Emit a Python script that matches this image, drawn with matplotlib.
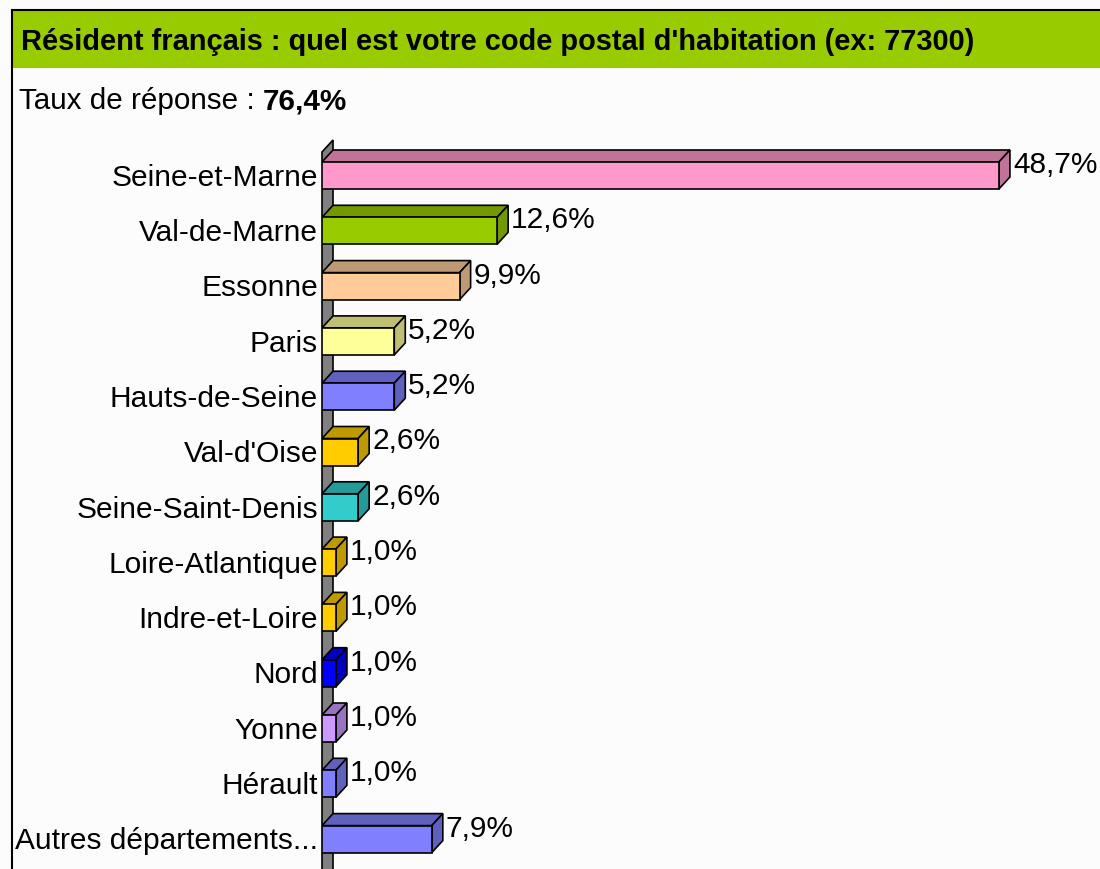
import matplotlib
matplotlib.use("Agg")
import matplotlib.pyplot as plt
from matplotlib.patches import Polygon, Rectangle

categories = [
    "Seine-et-Marne", "Val-de-Marne", "Essonne", "Paris", "Hauts-de-Seine",
    "Val-d'Oise", "Seine-Saint-Denis", "Loire-Atlantique", "Indre-et-Loire",
    "Nord", "Yonne", "Hérault", "Autres départements...",
]
values = [48.7, 12.6, 9.9, 5.2, 5.2, 2.6, 2.6, 1.0, 1.0, 1.0, 1.0, 1.0, 7.9]
value_labels = ["48,7%", "12,6%", "9,9%", "5,2%", "5,2%", "2,6%", "2,6%",
                "1,0%", "1,0%", "1,0%", "1,0%", "1,0%", "7,9%"]
front_colors = ["#FF99CC", "#99CC00", "#FFCC99", "#FFFF99", "#8080FF", "#FFCC00",
                "#33CCCC", "#FFCC00", "#FFCC00", "#0000FF", "#CC99FF", "#8080FF",
                "#8080FF"]
shade_colors = ["#BF7399", "#739900", "#BF9973", "#BFBF73", "#6060BF", "#BF9900",
                "#269999", "#BF9900", "#BF9900", "#0000BF", "#9973BF", "#6060BF",
                "#6060BF"]

title = "Résident français : quel est votre code postal d'habitation (ex: 77300)"
rate_label = "Taux de réponse : "
rate_value = "76,4%"

FAM = "Liberation Sans"

W, H = 1100, 869
fig = plt.figure(figsize=(W / 100, H / 100), dpi=100)
fig.patch.set_facecolor("#FCFCFC")

# page decoration in pixel coordinates
deco = fig.add_axes([0, 0, 1, 1])
deco.set_xlim(0, W)
deco.set_ylim(H, 0)
deco.axis("off")
deco.add_patch(Rectangle((12, 10), W, 58, facecolor="#99CC00", edgecolor="none"))
deco.plot([12, W], [10, 10], color="black", lw=1.5)
deco.plot([12, 12], [10, H], color="black", lw=1.5)
deco.text(21, 42, title, family=FAM, weight="bold", fontsize=20.9, va="center", ha="left")
t1 = deco.text(19, 101, rate_label, family=FAM, fontsize=21.3, va="center", ha="left")
fig.canvas.draw()
bb = t1.get_window_extent()
deco.text(bb.x1, H - 101, rate_value, family=FAM, weight="bold", fontsize=21.3,
          va="center", ha="left", transform=None)

# chart area
px_per_pct = 13.9
row = 55.3
left_px, top_px = 322, 140
ax = fig.add_axes([left_px / W, 0, 1 - left_px / W, (H - top_px) / H])
xmax = (W - left_px) / px_per_pct
y_top = (top_px - 175.5) / row
y_bot = (H - 175.5) / row
ax.set_xlim(0, xmax)
ax.set_ylim(y_bot, y_top)
ax.axis("off")

dx = 11 / px_per_pct
dy = 12 / row
h = 27 / row

# back wall
ax.add_patch(Polygon([(0, y_bot + 1), (0, y_top + dy), (dx, y_top), (dx, y_bot + 1 - dy)],
                     closed=True, facecolor="#808080", edgecolor="black", lw=1.2,
                     clip_on=False))

for i, (cat, v, lab, fc, sc) in enumerate(zip(categories, values, value_labels,
                                               front_colors, shade_colors)):
    y0 = i - h / 2
    y1 = i + h / 2
    top = Polygon([(0, y0), (v, y0), (v + dx, y0 - dy), (dx, y0 - dy)], closed=True,
                  facecolor=sc, edgecolor="black", lw=1.2)
    side = Polygon([(v, y0), (v, y1), (v + dx, y1 - dy), (v + dx, y0 - dy)], closed=True,
                   facecolor=sc, edgecolor="black", lw=1.2)
    front = Rectangle((0, y0), v, h, facecolor=fc, edgecolor="black", lw=1.2)
    ax.add_patch(top)
    ax.add_patch(side)
    ax.add_patch(front)
    ax.text(v + dx + 3 / px_per_pct, i - 0.19, lab, family=FAM, fontsize=21.5,
            va="center", ha="left", color="black")
    ax.text(-4 / px_per_pct, i + 0.04, cat, family=FAM, fontsize=21.5,
            va="center", ha="right", color="black", clip_on=False)

fig.savefig("out.png", dpi=100, facecolor=fig.get_facecolor())
